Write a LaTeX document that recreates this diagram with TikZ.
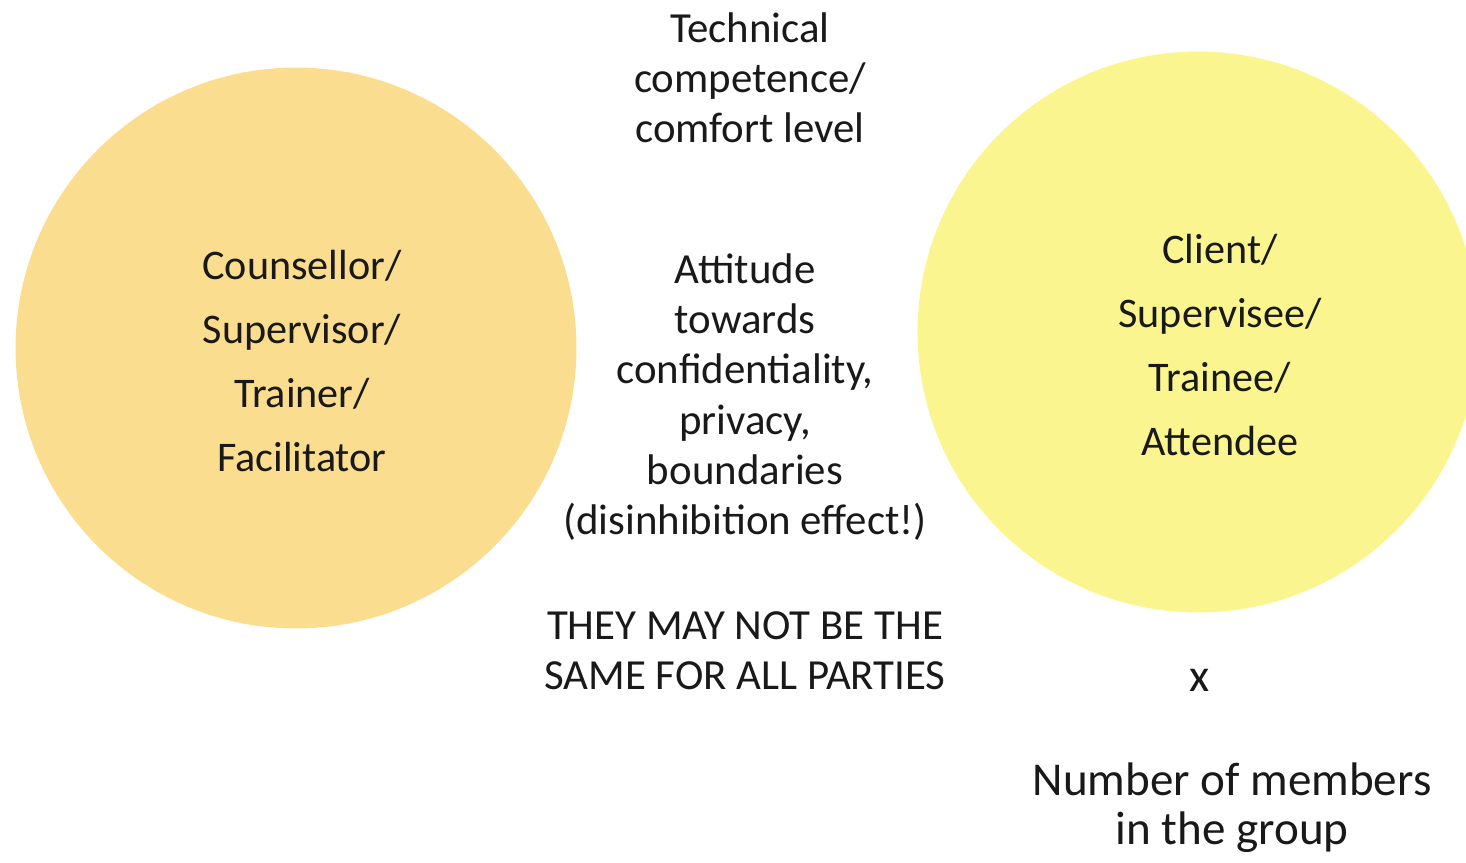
\documentclass[tikz,border=0pt]{standalone}
\usepackage{fontspec}
\setmainfont{Carlito}
\usetikzlibrary{positioning}

\definecolor{warmyellow}{RGB}{250,221,142}
\definecolor{paleyellow}{RGB}{250,245,142}

\begin{document}
\begin{tikzpicture}[x=0.02cm,y=-0.02cm,node distance=2.6cm]
    % Styles
    \tikzstyle{party}=[circle,minimum size=11.22cm,inner sep=0pt]
    \tikzstyle{roles}=[align=center,text=black!90,font=\fontsize{24}{36.4}\selectfont]
    \tikzstyle{note}=[align=center,text=black!90,font=\fontsize{24.4}{28.6}\selectfont]

    \useasboundingbox (0,0) rectangle (1466,862);

    % Circles
    \node[party,fill=warmyellow] (counsellor) at (296,348) {};
    \node[party,fill=paleyellow] (client)     at (1198,332) {};

    % Texts in the circles
    \node[roles] (providers) at (302,361) {Counsellor/\\Supervisor/\\Trainer/\\Facilitator};
    \node[roles] (receivers) at (1220,345) {Client/\\Supervisee/\\Trainee/\\Attendee};

    % Texts between the circles
    \node[note] (technical) at (750,78)  {Technical\\competence/\\comfort level};
    \node[note] (attitude)  at (745,397) {Attitude\\towards\\confidentiality,\\privacy,\\boundaries\\(disinhibition effect!)};
    \node[note] (parties)   at (745,651) {THEY MAY NOT BE THE\\SAME FOR ALL PARTIES};

    % Group size
    \node[note,font=\fontsize{26.5}{29.5}\selectfont] (times) at (1200,680) {x};
    \node[note,font=\fontsize{26.8}{28.2}\selectfont] (members) [below=1.18cm of times,xshift=0.64cm] {Number of members\\in the group};

\end{tikzpicture}
\end{document}
